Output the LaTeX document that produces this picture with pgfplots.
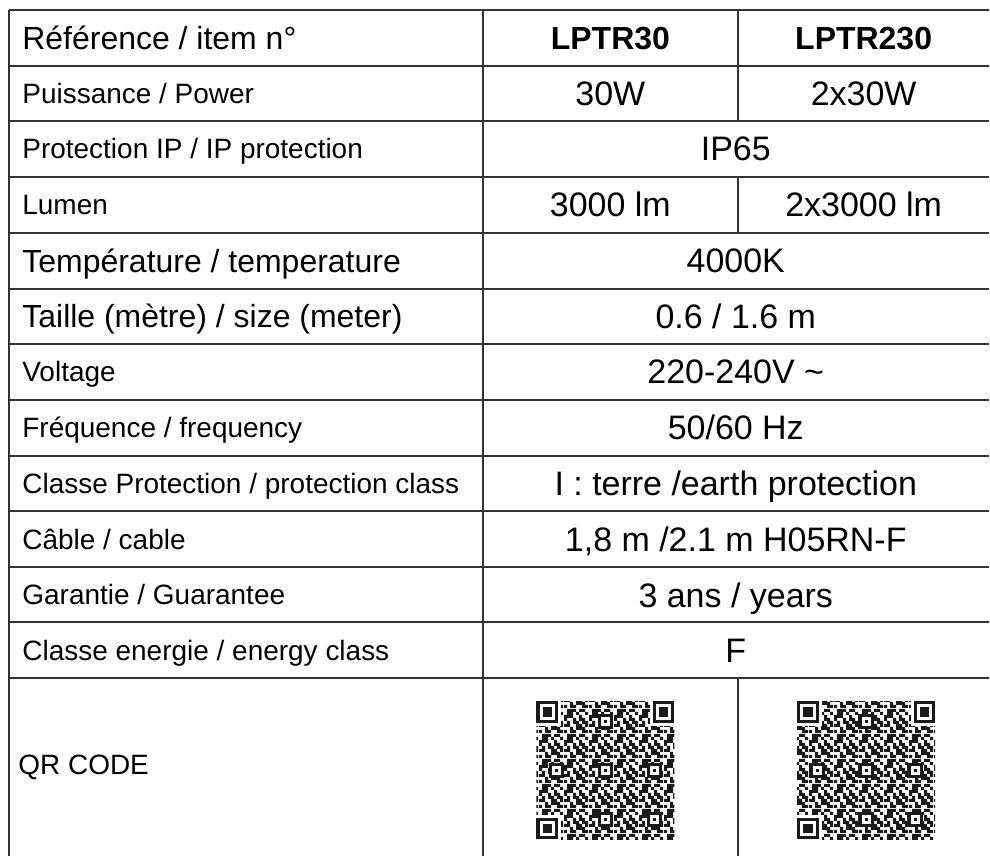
\documentclass[border=0pt]{standalone}
\usepackage{pgfplots}
\pgfplotsset{compat=1.18}
\usepackage{fontspec}
\setmainfont{Liberation Sans}
\usetikzlibrary{patterns.meta}
\definecolor{qrblack}{HTML}{1A1A1A}
\definecolor{rule}{HTML}{333333}
\newcommand\fs[1]{\fontsize{#1}{#1}\selectfont}
\def\qm{3.0667}
\tikzdeclarepattern{
  name=qrpat,
  bounding box={(0,0) and (12.264pt,12.264pt)},
  tile size={(12.264pt,12.264pt)},
  code={
    \foreach \c/\r in {0/0,2/0,3/0,6/0,7/0, 2/1,4/1,5/1,6/1, 0/2,1/2,4/2,5/2,7/2,
      1/3,3/3,4/3,6/3,7/3, 0/4,3/4,5/4,6/4, 0/5,1/5,2/5,5/5,
      1/6,2/6,4/6,7/6, 1/7,2/7,3/7,5/7,6/7}
      {\fill ({\c*1.533pt},{\r*1.533pt}) rectangle ++(1.533pt,1.533pt);}
  }
}
\newcommand\qrrect[5]{%
  \pgfmathsetmacro\ra{#1}\pgfmathsetmacro\rb{#2}%
  \pgfmathsetmacro\rc{#1+#3}\pgfmathsetmacro\rd{#2+#4}%
  \addplot[draw=none,#5] coordinates {(\ra,\rb) (\rc,\rb) (\rc,\rd) (\ra,\rd)} -- cycle;%
}
\newcommand\qrfinder[2]{%
  \qrrect{#1-\qm}{#2-\qm}{9*\qm}{9*\qm}{fill=white}%
  \qrrect{#1}{#2}{7*\qm}{7*\qm}{fill=qrblack}%
  \qrrect{#1+\qm}{#2+\qm}{5*\qm}{5*\qm}{fill=white}%
  \qrrect{#1+2*\qm}{#2+2*\qm}{3*\qm}{3*\qm}{fill=qrblack}%
}
\newcommand\qralign[2]{%
  \qrrect{#1}{#2}{5*\qm}{5*\qm}{fill=qrblack}%
  \qrrect{#1+\qm}{#2+\qm}{3*\qm}{3*\qm}{fill=white}%
  \qrrect{#1+2*\qm}{#2+2*\qm}{\qm}{\qm}{fill=qrblack}%
}
\newcommand\qrcode[2]{%
  \qrrect{#1}{#2}{45*\qm}{45*\qm}{pattern=qrpat,pattern color=qrblack}%
  \qrfinder{#1}{#2}%
  \qrfinder{#1+38*\qm}{#2}%
  \qrfinder{#1}{#2+38*\qm}%
  \qralign{#1+20*\qm}{#2+4*\qm}%
  \qralign{#1+4*\qm}{#2+20*\qm}%
  \qralign{#1+20*\qm}{#2+20*\qm}%
  \qralign{#1+36*\qm}{#2+20*\qm}%
  \qralign{#1+20*\qm}{#2+36*\qm}%
  \qralign{#1+36*\qm}{#2+36*\qm}%
}
\begin{document}
\begin{tikzpicture}
\begin{axis}[
  x=0.5pt, y=0.5pt, y dir=reverse,
  xmin=0, xmax=990, ymin=0, ymax=857,
  scale only axis, hide axis, clip=false,
  tl/.style={draw=rule, line width=1pt},
]
\addplot[draw=none] coordinates {(0,0) (990,857)};
% horizontal rules
\addplot[tl] coordinates {(9,10) (990,10)};
\addplot[tl] coordinates {(9,66) (990,66)};
\addplot[tl] coordinates {(9,121) (990,121)};
\addplot[tl] coordinates {(9,177) (990,177)};
\addplot[tl] coordinates {(9,233) (990,233)};
\addplot[tl] coordinates {(9,289) (990,289)};
\addplot[tl] coordinates {(9,344) (990,344)};
\addplot[tl] coordinates {(9,400) (990,400)};
\addplot[tl] coordinates {(9,456) (990,456)};
\addplot[tl] coordinates {(9,512) (990,512)};
\addplot[tl] coordinates {(9,568) (990,568)};
\addplot[tl] coordinates {(9,623) (990,623)};
\addplot[tl] coordinates {(9,679) (990,679)};
% vertical rules
\addplot[tl] coordinates {(9,10) (9,857)};
\addplot[tl] coordinates {(483,10) (483,857)};
\addplot[tl] coordinates {(739,10) (739,121)};
\addplot[tl] coordinates {(739,177) (739,233)};
\addplot[tl] coordinates {(739,679) (739,857)};
% left labels
\node[anchor=base west, inner sep=0, font=\fs{16}] at (axis cs:22,49.5) {Référence / item n°};
\node[anchor=base west, inner sep=0, font=\fs{14}] at (axis cs:22,103.5) {Puissance / Power};
\node[anchor=base west, inner sep=0, font=\fs{14}] at (axis cs:22,159) {Protection IP / IP protection};
\node[anchor=base west, inner sep=0, font=\fs{14}] at (axis cs:22,215) {Lumen};
\node[anchor=base west, inner sep=0, font=\fs{16}] at (axis cs:22,272.5) {Température / temperature};
\node[anchor=base west, inner sep=0, font=\fs{16}] at (axis cs:22,328) {Taille (mètre) / size (meter)};
\node[anchor=base west, inner sep=0, font=\fs{14}] at (axis cs:22,382) {Voltage};
\node[anchor=base west, inner sep=0, font=\fs{14}] at (axis cs:22,438) {Fréquence / frequency};
\node[anchor=base west, inner sep=0, font=\fs{14}] at (axis cs:22,494) {Classe Protection / protection class};
\node[anchor=base west, inner sep=0, font=\fs{14}] at (axis cs:22,550) {Câble / cable};
\node[anchor=base west, inner sep=0, font=\fs{14}] at (axis cs:22,605.5) {Garantie / Guarantee};
\node[anchor=base west, inner sep=0, font=\fs{14}] at (axis cs:22,661) {Classe energie / energy class};
\node[anchor=base west, inner sep=0, font=\fs{14}] at (axis cs:18,775) {QR CODE};
% values
\node[anchor=base, inner sep=0, font=\fs{16}\bfseries] at (axis cs:611,49.5) {LPTR30};
\node[anchor=base, inner sep=0, font=\fs{16}\bfseries] at (axis cs:864.5,49.5) {LPTR230};
\node[anchor=base, inner sep=0, font=\fs{17}] at (axis cs:611,105.7) {30W};
\node[anchor=base, inner sep=0, font=\fs{17}] at (axis cs:864.5,105.7) {2x30W};
\node[anchor=base, inner sep=0, font=\fs{17}] at (axis cs:736.5,161) {IP65};
\node[anchor=base, inner sep=0, font=\fs{17}] at (axis cs:611,217) {3000 lm};
\node[anchor=base, inner sep=0, font=\fs{17}] at (axis cs:864.5,217) {2x3000 lm};
\node[anchor=base, inner sep=0, font=\fs{17}] at (axis cs:736.5,273) {4000K};
\node[anchor=base, inner sep=0, font=\fs{17}] at (axis cs:736.5,329) {0.6 / 1.6 m};
\node[anchor=base, inner sep=0, font=\fs{17}] at (axis cs:736.5,384) {220-240V \textasciitilde};
\node[anchor=base, inner sep=0, font=\fs{17}] at (axis cs:736.5,440) {50/60 Hz};
\node[anchor=base, inner sep=0, font=\fs{17}] at (axis cs:736.5,496) {I : terre /earth protection};
\node[anchor=base, inner sep=0, font=\fs{17}] at (axis cs:736.5,552) {1,8 m /2.1 m H05RN-F};
\node[anchor=base, inner sep=0, font=\fs{17}] at (axis cs:736.5,608) {3 ans / years};
\node[anchor=base, inner sep=0, font=\fs{17}] at (axis cs:736.5,663) {F};
% QR codes
\qrcode{537}{702}
\qrcode{798}{702}
\end{axis}
\end{tikzpicture}
\end{document}
